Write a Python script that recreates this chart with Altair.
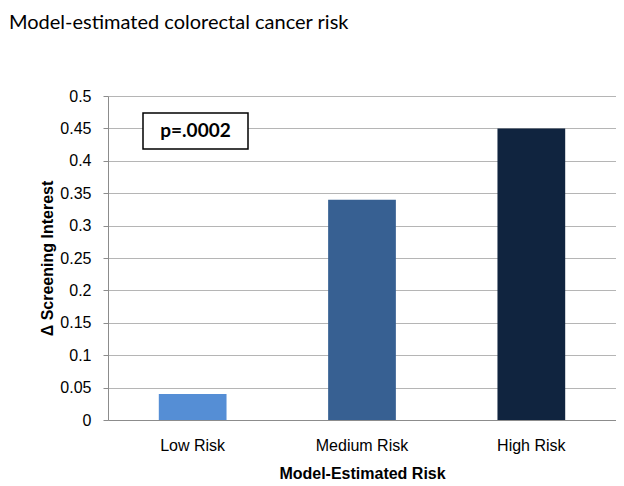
import altair as alt
import pandas as pd

categories = ["Low Risk", "Medium Risk", "High Risk"]
values = [0.04, 0.34, 0.45]
bar_colors = ["#558ED5", "#376092", "#10243F"]
y_ticks = [0, 0.05, 0.1, 0.15, 0.2, 0.25, 0.3, 0.35, 0.4, 0.45, 0.5]
annotation = ["p=.0002"]

df = pd.DataFrame({"risk": categories, "value": values})
ann = pd.DataFrame({"label": annotation})

FONT = "Lato"
W, H = 508, 324

bars = alt.Chart(df).mark_bar().encode(
    x=alt.X(
        "risk:N",
        sort=categories,
        scale=alt.Scale(paddingInner=0.6, paddingOuter=0.3),
        axis=alt.Axis(
            title="Model-Estimated Risk",
            labelAngle=0,
            ticks=False,
            labelPadding=17,
            labelFontSize=16,
            titleY=53,
            titleBaseline="middle",
            titleFontSize=16,
            titleFontWeight="bold",
            domainColor="#8C8C8C",
        ),
    ),
    y=alt.Y(
        "value:Q",
        scale=alt.Scale(domain=[0, 0.5], nice=False),
        axis=alt.Axis(
            title="Δ Screening Interest",
            values=y_ticks,
            format=".2~f",
            tickSize=5,
            tickColor="#8C8C8C",
            domainColor="#8C8C8C",
            labelPadding=12,
            labelFontSize=16,
            grid=True,
            gridColor="#B5B5B5",
            titleX=-61,
            titleY=162,
            titleBaseline="middle",
            titleFontSize=16,
            titleFontWeight="bold",
        ),
    ),
    color=alt.Color("risk:N", scale=alt.Scale(domain=categories, range=bar_colors), legend=None),
)

box = alt.Chart(ann).mark_rect(fill="white", stroke="black", strokeWidth=1.5).encode(
    x=alt.value(35), x2=alt.value(140), y=alt.value(17), y2=alt.value(53)
)
label = alt.Chart(ann).mark_text(
    font=FONT, fontSize=19, fontWeight="bold", color="black", align="center", baseline="middle"
).encode(x=alt.value(87.5), y=alt.value(35), text="label:N")

chart = (
    alt.layer(bars, box, label)
    .properties(
        width=W,
        height=H,
        autosize=alt.AutoSizeParams(type="none"),
        padding={"left": 100, "top": 88, "right": 0, "bottom": 64},
        title=alt.TitleParams(
            "Model-estimated colorectal cancer risk",
            anchor="start",
            frame="group",
            dx=-99,
            dy=-51,
            fontSize=20,
            font=FONT,
            fontWeight="normal",
            color="black",
        ),
    )
    .configure_view(stroke=None)
    .configure_axis(
        labelFont=FONT, titleFont=FONT, labelColor="black", titleColor="black", grid=False
    )
    .configure(background="white")
)

chart.save("out.html", embed_options={"renderer": "svg", "actions": False})
